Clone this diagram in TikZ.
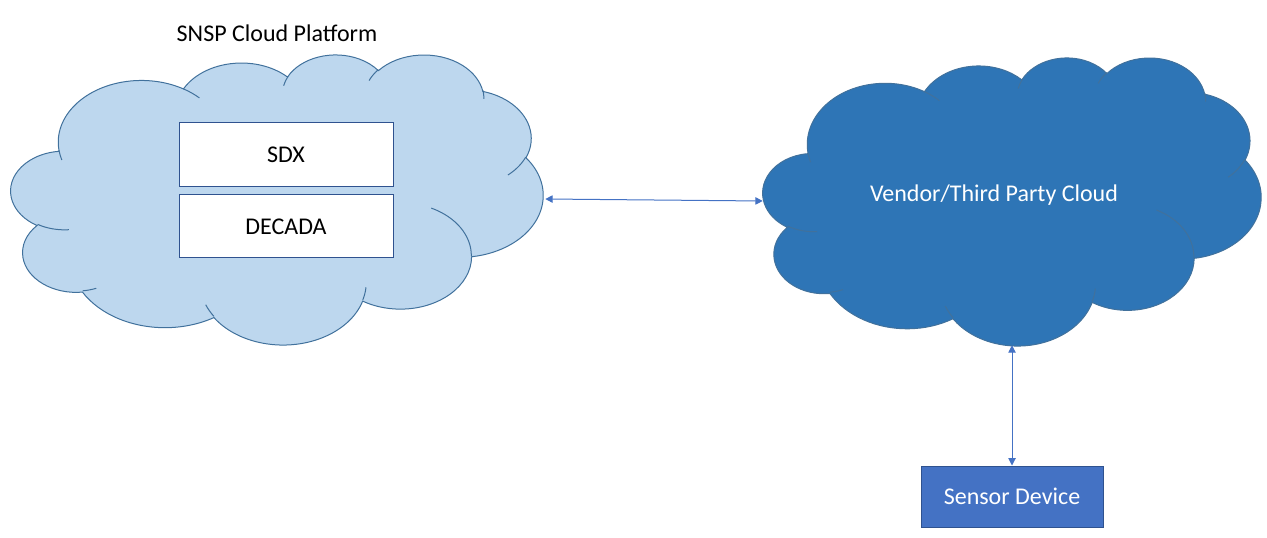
\documentclass[tikz,border=0pt]{standalone}
\usepackage{fontspec}
\setmainfont{Carlito}
\usetikzlibrary{arrows.meta}
\definecolor{lightcloud}{HTML}{BDD7EE}
\definecolor{darkcloud}{HTML}{2E75B6}
\definecolor{cloudline}{HTML}{41719C}
\definecolor{boxline}{HTML}{2F528F}
\definecolor{sensorfill}{HTML}{4472C4}
\definecolor{arrowcol}{HTML}{4472C4}
% elliptical arc in DrawingML style: wR, hR, start angle, sweep (degrees, ray angles)
\newcommand\CA[4]{%
  \pgfextra{%
    \pgfmathparse{atan2((#1)*sin(#3),(#2)*cos(#3))}%
    \global\let\cloudS\pgfmathresult
    \pgfmathparse{atan2((#1)*sin((#3)+(#4)),(#2)*cos((#3)+(#4)))}%
    \let\cloudT\pgfmathresult
    \pgfmathparse{\cloudT<\cloudS ? \cloudT+360 : \cloudT}%
    \global\let\cloudE\pgfmathresult
  }%
  arc[start angle=\cloudS, end angle=\cloudE, x radius=#1, y radius=#2]}
\newcommand\cloudouter{(39.00,143.70)
  \CA{67.53}{91.90}{-190.4875}{123.7805}
  \CA{53.33}{72.67}{-144.1024}{89.9452}
  \CA{43.65}{59.45}{-145.8079}{99.7230}
  \CA{48.57}{65.95}{-130.9861}{117.2417}
  \CA{53.33}{72.73}{-78.7089}{109.0269}
  \CA{67.75}{92.20}{-46.2673}{130.2690}
  \CA{57.85}{78.67}{0.6250}{114.0333}
  \CA{67.52}{92.15}{22.4516}{115.1726}
  \CA{77.20}{105.43}{66.2426}{75.7110}
  \CA{43.60}{59.18}{-274.9421}{146.7356}
  \CA{43.45}{59.45}{-246.8285}{152.5189}
  -- cycle}
\newcommand\cloudinner{%
  (46.93,261.77) \CA{43.45}{59.45}{86.7420}{26.4295}
  (69.28,348.99) \CA{43.60}{59.18}{73.6105}{11.4475}
  (164.78,390.90) \CA{67.52}{92.15}{137.6242}{14.0811}
  (288.27,347.51) \CA{67.52}{92.15}{6.4533}{15.9984}
  (341.29,229.54) \CA{57.85}{78.67}{-70.2924}{70.9174}
  (417.98,153.54) \CA{53.33}{72.73}{30.3180}{27.7515}
  (383.24,54.26) \CA{48.57}{65.95}{-13.7443}{14.8630}
  (290.78,39.52) \CA{48.57}{65.95}{-149.1815}{18.1954}
  (221.41,47.20) \CA{43.65}{59.45}{-163.4943}{17.6864}
  (140.00,51.92) \CA{67.53}{91.90}{-66.7070}{12.3194}
  (41.27,157.89) \CA{67.53}{91.90}{157.6544}{11.8582}}
\tikzset{
  cloudfill/.style={line width=0.75pt, draw=cloudline},
  cloudarcs/.style={line width=0.75pt, draw=cloudline},
  whitebox/.style={draw=boxline, fill=white, line width=0.75pt, inner sep=0pt,
    minimum width=160.5pt, font=\fontsize{18pt}{22pt}\selectfont},
  sensorbox/.style={draw=boxline, fill=sensorfill, line width=0.75pt, inner sep=0pt,
    text=white, font=\fontsize{18pt}{22pt}\selectfont},
  label/.style={inner sep=0pt, font=\fontsize{18pt}{22pt}\selectfont},
  area/.style={inner sep=0pt, draw=none},
  link/.style={draw=arrowcol, line width=0.75pt,
    {Triangle[length=5.5pt,width=5.5pt]}-{Triangle[length=5.5pt,width=5.5pt]}}
}
\begin{document}
\begin{tikzpicture}[x=0.75pt, y=-0.75pt]
\useasboundingbox (0,0) rectangle (1267,538);
% left cloud
\begin{scope}[shift={(11,54)}, xscale=1.231481, yscale=0.671296]
  \path[cloudfill, fill=lightcloud] \cloudouter;
  \path[cloudarcs] \cloudinner;
\end{scope}
% right cloud
\begin{scope}[shift={(763,57)}, xscale=1.152778, yscale=0.666667]
  \path[cloudfill, fill=darkcloud] \cloudouter;
  \path[cloudarcs] \cloudinner;
\end{scope}
% areas of the clouds, for connectors
\node[area, minimum width=400.5pt, minimum height=217.5pt] (snsp) at (278,199) {};
\node[area, minimum width=373.5pt, minimum height=216pt] (vendor) at (1012,201) {};
% texts
\node[label, anchor=base] (title) at (277,42) {SNSP Cloud Platform};
\node[label, anchor=base, text=white] (vtext) at (994,202) {Vendor/Third Party Cloud};
\node[whitebox, minimum height=48pt] (sdx) at (286,155) {SDX};
\node[whitebox, minimum height=47.25pt] (decada) at (286,226.5) {DECADA};
\node[sensorbox, minimum width=136.5pt, minimum height=45.75pt] (sensor) at (1012,496.5) {Sensor Device};
% connectors
\draw[link] (snsp.east) -- (vendor.west);
\draw[link] (vendor.south) -- (sensor.north);
\end{tikzpicture}
\end{document}
